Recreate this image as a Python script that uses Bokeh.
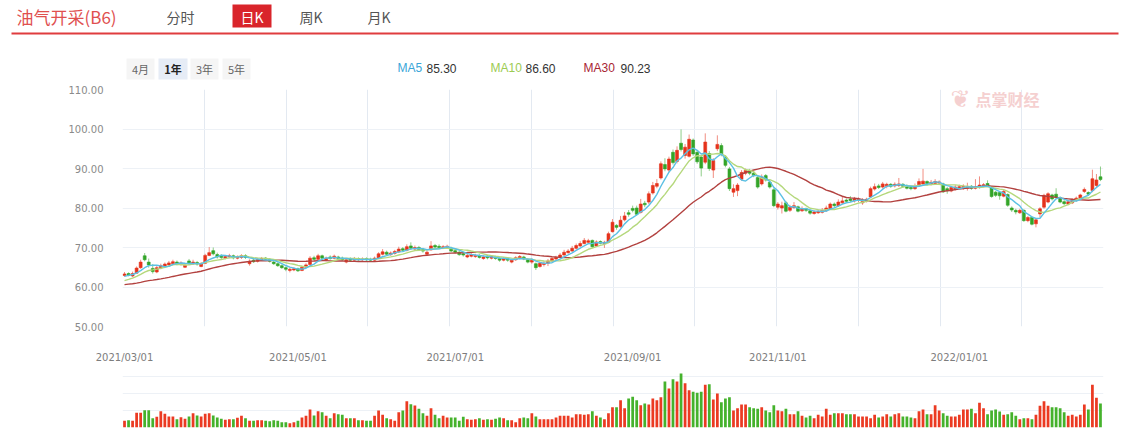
import numpy as np
from bokeh.plotting import figure
from bokeh.layouts import column
from bokeh.models import Range1d, FixedTicker, PrintfTickFormatter, ColumnDataSource, Label
from bokeh.core.properties import value
from bokeh.embed import file_html
from bokeh.resources import INLINE

# ---------------- data ----------------
tick_idx = [0, 43, 82, 126, 162, 207]
tick_labels = ["2021/03/01", "2021/05/01", "2021/07/01", "2021/09/01", "2021/11/01", "2022/01/01"]
price_ticks = [50, 60, 70, 80, 90, 100, 110]

# closes of the 29 sessions before the window (only feed the moving averages)
prior_close = [59.8, 60.2, 60.5, 60.1, 59.7, 59.5, 59.9, 60.3, 60.6, 60.4,
               60.0, 59.6, 59.4, 59.8, 60.2, 60.5, 60.8, 60.6, 60.3, 60.0,
               59.9, 60.2, 60.5, 60.9, 61.2, 61.6, 62.4, 62.9, 63.2]

open_ = [62.9, 63.4, 62.8, 63.5, 64.9, 67.9, 66.3, 64.7, 63.8, 64.8,
         65.3, 65.6, 65.9, 66.3, 65.7, 65.0, 66.6, 65.9, 66.2, 65.2,
         66.0, 68.0, 69.2, 68.2, 67.9, 67.3, 67.6, 67.9, 67.3, 67.5,
         67.9, 65.9, 66.8, 66.5, 66.9, 67.3, 67.0, 66.3, 65.9, 65.4,
         64.9, 64.2, 64.3, 64.6, 64.2, 65.0, 65.7, 67.4, 67.0, 67.9,
         66.8, 67.6, 67.3, 67.6, 67.3, 66.3, 67.1, 66.8, 67.2, 66.9,
         67.2, 67.0, 66.8, 67.3, 68.3, 68.8, 68.2, 68.5, 68.9, 69.7,
         69.3, 70.4, 69.6, 70.0, 69.5, 68.3, 69.4, 70.5, 70.3, 69.9,
         70.0, 69.8, 69.2, 68.8, 68.4, 67.6, 67.8, 67.7, 68.0, 67.2,
         67.8, 67.3, 67.6, 67.2, 66.8, 67.2, 66.3, 66.9, 67.3, 67.6,
         67.0, 66.3, 65.9, 65.2, 65.7, 66.0, 66.6, 67.1, 67.5, 68.1,
         68.7, 69.1, 69.8, 70.4, 71.0, 71.3, 71.8, 70.4, 71.5, 71.0,
         71.3, 74.0, 75.6, 75.3, 77.0, 78.8, 79.9, 80.0, 78.9, 81.2,
         81.5, 83.8, 85.5, 87.6, 91.0, 89.6, 94.1, 91.8, 96.4, 93.3,
         93.1, 97.2, 94.1, 92.9, 91.6, 93.8, 89.6, 95.0, 95.8, 92.9,
         89.9, 84.0, 84.4, 87.3, 88.8, 89.4, 88.8, 87.7, 86.1, 88.2,
         86.5, 84.6, 80.2, 80.0, 81.3, 79.4, 80.1, 80.3, 79.3, 79.8,
         79.3, 78.6, 78.8, 78.9, 79.3, 79.8, 81.0, 80.6, 81.3, 82.0,
         82.3, 81.8, 81.9, 81.3, 81.8, 82.8, 84.8, 85.6, 85.3, 85.5,
         86.0, 85.6, 85.7, 86.0, 85.6, 85.2, 84.9, 85.9, 86.1, 86.7,
         86.0, 86.2, 86.3, 86.1, 84.9, 84.3, 84.7, 85.0, 85.1, 85.0,
         85.5, 85.0, 85.2, 85.5, 86.2, 85.2, 84.0, 83.9, 83.0, 83.4,
         80.0, 79.4, 78.8, 79.4, 76.8, 77.6, 76.0, 78.5, 80.2, 81.5,
         83.3, 83.5, 82.6, 81.6, 81.0, 81.3, 82.0, 82.4, 84.2, 83.9,
         84.4, 85.7, 87.9]

close = [63.3, 63.0, 63.4, 64.8, 66.3, 66.9, 65.6, 63.9, 64.9, 65.4,
         65.8, 66.1, 66.4, 65.9, 66.1, 65.5, 65.9, 66.3, 65.8, 65.8,
         68.0, 68.7, 68.4, 67.6, 67.5, 67.7, 67.9, 67.4, 67.6, 67.9,
         67.5, 66.5, 66.4, 67.0, 67.2, 67.0, 66.5, 65.9, 65.4, 64.9,
         64.5, 64.5, 64.6, 64.1, 65.0, 65.6, 67.3, 67.0, 67.9, 67.3,
         67.3, 67.2, 67.8, 67.2, 66.9, 66.9, 66.8, 67.1, 66.9, 67.1,
         66.9, 66.8, 67.3, 68.4, 68.9, 68.3, 68.6, 69.0, 69.6, 69.3,
         70.2, 69.8, 70.0, 69.5, 69.1, 68.8, 70.4, 70.1, 70.0, 70.2,
         70.3, 69.1, 68.8, 68.2, 68.1, 68.0, 68.2, 68.0, 67.5, 67.6,
         67.4, 67.7, 67.2, 66.8, 67.2, 66.8, 66.8, 67.4, 67.7, 67.1,
         66.3, 66.8, 64.9, 66.0, 66.0, 66.6, 67.2, 67.5, 68.1, 68.8,
         69.1, 69.8, 70.5, 71.0, 71.8, 71.7, 70.2, 71.4, 71.1, 71.3,
         73.5, 76.4, 75.1, 76.9, 78.0, 78.4, 79.4, 78.4, 81.0, 80.8,
         83.6, 85.7, 86.2, 91.2, 89.9, 92.4, 91.5, 94.6, 94.8, 95.4,
         97.4, 93.7, 91.7, 90.1, 96.7, 90.0, 92.0, 96.1, 93.7, 90.8,
         84.9, 84.9, 85.8, 89.0, 89.5, 88.8, 88.2, 85.3, 87.8, 87.1,
         85.3, 80.6, 81.0, 80.6, 79.2, 80.2, 80.6, 79.2, 79.8, 79.4,
         78.7, 79.0, 79.1, 79.4, 80.0, 81.0, 80.6, 81.5, 81.8, 81.7,
         81.9, 82.3, 82.2, 81.7, 82.2, 84.9, 85.4, 85.2, 86.1, 86.0,
         85.5, 86.0, 86.1, 85.5, 85.0, 84.9, 85.4, 86.7, 86.8, 86.2,
         86.5, 86.7, 86.6, 84.1, 84.4, 85.2, 85.3, 85.4, 85.5, 85.4,
         85.0, 85.4, 85.8, 85.9, 85.6, 82.9, 83.2, 83.1, 84.2, 80.7,
         79.5, 79.0, 79.4, 76.8, 77.6, 75.9, 77.0, 79.8, 83.2, 83.6,
         82.3, 82.7, 81.5, 81.1, 81.6, 82.1, 82.5, 83.3, 84.7, 83.5,
         87.4, 87.1, 87.2]

high = [63.8, 63.7, 63.9, 65.2, 66.9, 68.6, 67.2, 65.8, 65.4, 65.9,
        66.2, 66.6, 66.9, 66.7, 66.5, 65.9, 67.1, 66.9, 66.6, 66.3,
        68.4, 70.1, 70.0, 68.7, 68.3, 68.1, 68.4, 68.2, 68.0, 68.3,
        68.3, 67.0, 67.2, 67.3, 67.6, 67.6, 67.3, 66.6, 66.2, 65.7,
        65.2, 64.9, 65.0, 64.9, 65.4, 66.0, 67.8, 67.9, 68.4, 68.2,
        67.7, 68.0, 68.2, 67.9, 67.7, 67.3, 67.5, 67.6, 67.5, 67.5,
        67.5, 67.4, 67.7, 68.8, 69.6, 69.2, 69.0, 69.4, 70.2, 70.1,
        70.8, 71.3, 70.5, 70.4, 69.9, 69.2, 71.6, 70.9, 70.8, 70.6,
        70.7, 70.2, 69.5, 69.1, 68.8, 68.5, 68.6, 68.4, 68.3, 68.0,
        68.1, 68.1, 67.9, 67.5, 67.6, 67.5, 67.1, 67.8, 68.1, 67.9,
        67.3, 67.2, 66.2, 66.4, 66.5, 67.1, 67.5, 67.9, 68.6, 69.4,
        69.6, 70.4, 71.0, 71.6, 72.4, 72.2, 72.0, 71.8, 71.8, 71.7,
        74.0, 77.2, 75.9, 78.0, 79.0, 79.5, 80.6, 80.6, 82.3, 81.8,
        84.2, 86.6, 87.3, 91.8, 92.6, 93.0, 94.8, 95.6, 99.9, 96.2,
        98.6, 97.6, 94.5, 93.4, 98.9, 94.4, 92.6, 98.4, 96.4, 93.4,
        90.4, 86.0, 86.3, 89.6, 90.0, 89.9, 89.2, 88.2, 88.5, 88.6,
        86.8, 85.0, 81.5, 81.6, 81.8, 80.8, 81.5, 80.6, 80.4, 80.1,
        79.6, 79.4, 79.6, 80.0, 80.6, 81.4, 81.4, 82.2, 82.9, 82.4,
        83.0, 82.8, 82.7, 82.5, 82.6, 85.4, 86.2, 86.1, 86.6, 86.4,
        86.3, 86.5, 87.6, 86.3, 86.0, 85.6, 86.2, 87.5, 89.9, 87.0,
        87.1, 87.3, 87.0, 86.4, 85.3, 85.6, 85.8, 85.9, 86.0, 86.4,
        85.8, 87.3, 88.0, 86.3, 87.0, 85.5, 84.3, 84.2, 84.6, 83.7,
        80.4, 79.8, 79.8, 79.7, 78.0, 77.9, 77.3, 80.2, 83.6, 84.0,
        83.6, 85.0, 82.9, 82.0, 82.0, 82.5, 82.9, 83.6, 85.2, 84.2,
        89.7, 88.6, 90.5]

low = [62.6, 62.7, 62.5, 63.3, 64.6, 66.5, 64.9, 63.4, 63.5, 64.5,
       65.0, 65.3, 65.6, 65.5, 65.4, 64.8, 65.6, 65.6, 65.4, 65.0,
       65.8, 67.8, 68.0, 67.2, 66.9, 67.0, 67.3, 67.0, 67.0, 67.1,
       67.1, 65.4, 66.1, 66.2, 66.6, 66.7, 66.2, 65.6, 65.1, 64.6,
       64.0, 63.7, 64.0, 63.8, 64.0, 64.8, 65.5, 66.6, 66.8, 67.0,
       66.5, 66.9, 67.0, 66.9, 66.6, 66.0, 66.5, 66.5, 66.6, 66.6,
       66.6, 66.5, 66.5, 67.1, 68.0, 67.9, 67.9, 68.2, 68.6, 68.9,
       69.0, 69.4, 69.2, 69.1, 68.7, 68.0, 69.2, 69.8, 69.6, 69.6,
       69.7, 68.8, 68.5, 67.9, 67.7, 67.3, 67.5, 67.4, 67.2, 66.9,
       67.0, 67.0, 66.9, 66.4, 66.5, 66.4, 66.0, 66.6, 67.0, 66.8,
       66.0, 65.9, 64.3, 64.9, 65.2, 65.3, 66.4, 66.8, 67.3, 67.9,
       68.4, 68.9, 69.5, 70.1, 70.8, 71.0, 69.9, 70.2, 70.8, 69.9,
       71.1, 73.8, 74.5, 75.0, 76.6, 77.8, 78.9, 78.1, 78.6, 80.2,
       81.0, 83.4, 85.0, 87.2, 89.3, 89.0, 91.0, 91.3, 94.3, 92.5,
       92.8, 93.2, 91.2, 88.0, 91.1, 89.4, 87.6, 94.4, 93.1, 90.3,
       84.3, 82.8, 83.0, 86.9, 88.3, 88.3, 87.8, 84.9, 85.7, 86.7,
       84.9, 80.2, 79.6, 78.6, 78.9, 79.0, 79.8, 78.9, 79.0, 79.0,
       78.3, 78.3, 78.5, 78.6, 79.0, 79.6, 80.2, 80.3, 81.0, 81.3,
       81.5, 81.4, 81.5, 80.8, 81.4, 82.5, 84.4, 84.8, 84.9, 85.0,
       85.1, 85.2, 85.3, 85.1, 84.7, 84.5, 84.6, 85.5, 85.8, 85.6,
       85.7, 85.9, 85.8, 83.8, 83.6, 84.0, 84.4, 84.7, 84.6, 84.4,
       84.6, 84.7, 84.9, 85.2, 85.3, 82.6, 82.8, 82.1, 82.7, 80.3,
       79.0, 78.4, 78.5, 76.5, 76.4, 75.6, 75.1, 77.6, 79.8, 81.2,
       81.9, 82.4, 81.2, 80.7, 80.7, 81.0, 81.6, 82.1, 83.8, 83.1,
       84.0, 85.3, 86.8]

volume = [20, 22, 20, 44, 44, 52, 52, 28, 32, 49,
          41, 33, 33, 25, 31, 26, 33, 43, 36, 33,
          41, 43, 36, 30, 26, 23, 25, 25, 29, 35,
          28, 20, 20, 22, 22, 20, 19, 22, 20, 16,
          16, 13, 16, 20, 30, 35, 54, 36, 49, 46,
          35, 28, 43, 40, 38, 28, 28, 28, 22, 22,
          20, 20, 35, 51, 38, 28, 25, 20, 46, 51,
          79, 70, 66, 56, 43, 35, 58, 38, 28, 35,
          30, 30, 30, 20, 32, 25, 23, 25, 28, 23,
          25, 23, 26, 30, 28, 22, 22, 16, 28, 30,
          28, 43, 33, 25, 25, 25, 25, 30, 35, 35,
          35, 30, 40, 40, 38, 40, 49, 35, 30, 25,
          43, 61, 61, 82, 58, 87, 92, 82, 67, 72,
          69, 87, 82, 91, 138, 117, 145, 138, 162, 133,
          112, 107, 104, 107, 128, 130, 84, 102, 76, 87,
          91, 51, 58, 69, 69, 61, 58, 56, 61, 51,
          46, 67, 51, 49, 56, 40, 40, 49, 35, 30,
          35, 28, 38, 33, 56, 38, 43, 43, 43, 40,
          40, 40, 33, 33, 33, 28, 38, 30, 33, 40,
          33, 40, 43, 33, 33, 30, 28, 49, 54, 40,
          40, 67, 51, 43, 35, 33, 33, 38, 54, 54,
          56, 43, 74, 58, 40, 51, 54, 48, 38, 40,
          46, 35, 25, 28, 28, 25, 38, 65, 79, 65,
          61, 61, 58, 46, 35, 38, 33, 38, 69, 54,
          128, 89, 72]

legend_names = ["MA5", "MA10", "MA30"]
legend_values = ["85.30", "86.60", "90.23"]

# ---------------- derived ----------------
W = 1134
n = len(close)
x = np.arange(n)
o = np.array(open_); c = np.array(close)
RED = "#e5321b"
GREEN = "#33a528"
up = c >= o
colors = np.where(up, RED, GREEN)
vcolors = np.where(up, "#eb3a22", "#45b22c")
full = np.concatenate([np.array(prior_close), c])

def ma(k):
    return np.convolve(full, np.ones(k) / k, mode="valid")[-n:]

src = ColumnDataSource(dict(x=x, o=o, c=c, h=high, l=low,
                            top=np.maximum(o, c), bot=np.minimum(o, c),
                            color=colors, vcolor=vcolors, vol=volume))

CJK = "Noto Sans CJK SC"
x_range = Range1d(-0.5, n - 0.25)
grid_color = "#edf1f6"
vgrid_color = "#e3e9f1"
span = (n - 0.25) - (-0.5)
vgrid_ticks = [-0.5 + k * span / 12 for k in range(13)]
BL, BR = 122, 31

# ---------------- header (own frame = whole canvas) ----------------
hdr = figure(width=W, height=80, x_range=Range1d(0, W), y_range=Range1d(80, 0),
             output_backend="svg", toolbar_location=None, min_border=0,
             x_axis_location=None, y_axis_location=None, outline_line_color=None)
hdr.grid.visible = False
hdr_text = dict(text_baseline="middle", source=None)


def htext(xs, ys, texts, size, color, font=CJK, align="left", style="normal"):
    hdr.text(x=xs, y=ys, text=texts, text_font=value(font), text_font_size=size,
             text_color=color, text_baseline="middle", text_align=align, text_font_style=style)


htext([16], [16], ["油气开采(B6)"], "17px", "#e0504f")
htext([166, 299, 367], [16, 16, 16], ["分时", "周K", "月K"], "14px", "#555555")
hdr.quad(left=[232], right=[271], top=[4], bottom=[27], fill_color="#d9252b", line_color=None)
htext([251.5], [16], ["日K"], "14px", "#ffffff", align="center")
hdr.segment(x0=[11], y0=[33], x1=[1118], y1=[33], line_color="#e03c3f", line_width=2)

# period buttons
hdr.quad(left=[126, 158, 190, 222], right=[154, 187, 218, 250], top=[58, 58, 58, 58],
         bottom=[79, 79, 79, 79], fill_color=["#f5f5f5", "#e6ecf6", "#f5f5f5", "#f5f5f5"],
         line_color=None)
htext([140, 204, 236], [68.5] * 3, ["4月", "3年", "5年"], "11px", "#666666", align="center")
htext([172.5], [68.5], ["1年"], "11px", "#222222", align="center", style="bold")

# MA legend
htext([397, 490, 583], [67.5] * 3, legend_names, "12px", ["#3aa6d8", "#9ccb52", "#a82533"],
      font="Liberation Sans")
htext([426, 525, 620], [67.5] * 3, legend_values, "12px", "#333333", font="Liberation Sans")

# ---------------- price panel ----------------
main = figure(width=W, height=260, x_range=x_range, y_range=Range1d(50, 110),
              output_backend="svg", toolbar_location=None, x_axis_location=None,
              min_border_left=BL, min_border_right=BR, min_border_top=9, min_border_bottom=14,
              outline_line_color=None)
main.yaxis.ticker = FixedTicker(ticks=price_ticks)
main.yaxis.formatter = PrintfTickFormatter(format="%.2f")
main.yaxis.axis_line_color = None
main.yaxis.major_tick_line_color = None
main.yaxis.minor_tick_line_color = None
main.yaxis.major_label_standoff = 13
main.yaxis.major_label_text_font = "DejaVu Sans"
main.yaxis.major_label_text_font_size = "10px"
main.yaxis.major_label_text_color = "#8a8a8a"
main.ygrid.ticker = FixedTicker(ticks=price_ticks)
main.ygrid.grid_line_color = grid_color
main.xgrid.ticker = FixedTicker(ticks=vgrid_ticks)
main.xgrid.grid_line_color = vgrid_color

# watermark
main.add_layout(Label(x=975, y=18, x_units="canvas", y_units="canvas", text="点掌财经",
                      text_font=CJK, text_font_size="16px", text_font_style="bold",
                      text_color="#f5d0d0", text_baseline="middle"))
main.add_layout(Label(x=960, y=18, x_units="canvas", y_units="canvas", text="❦",
                      text_font="DejaVu Sans", text_font_size="24px",
                      text_color="#f5d0d0", text_baseline="middle", text_align="center"))

main.segment(x0="x", y0="l", x1="x", y1="h", line_color="color", line_alpha=0.55,
             line_width=1, source=src)
main.vbar(x="x", width=0.72, top="top", bottom="bot", fill_color="color",
          line_color="color", line_width=0.6, source=src)
main.line(x, ma(30), line_color="#b2413f", line_width=1.4)
main.line(x, ma(10), line_color="#b5d87c", line_width=1.4)
main.line(x, ma(5), line_color="#5bc0e4", line_width=1.4)

# ---------------- volume panel ----------------
volf = figure(width=W, height=102, x_range=x_range, y_range=Range1d(0, 204),
              output_backend="svg", toolbar_location=None, x_axis_location="above",
              y_axis_location=None, min_border_left=BL, min_border_right=BR,
              min_border_top=19, min_border_bottom=15, outline_line_color=None)
volf.xaxis.ticker = FixedTicker(ticks=tick_idx)
volf.xaxis.major_label_overrides = {t: s for t, s in zip(tick_idx, tick_labels)}
volf.xaxis.axis_line_color = None
volf.xaxis.major_tick_line_color = None
volf.xaxis.minor_tick_line_color = None
volf.xaxis.major_label_standoff = -9
volf.xaxis.major_label_text_font = "DejaVu Sans"
volf.xaxis.major_label_text_font_size = "10px"
volf.xaxis.major_label_text_color = "#7d7d7d"
volf.ygrid.ticker = FixedTicker(ticks=[0, 51, 102, 153, 204])
volf.ygrid.grid_line_color = grid_color
volf.xgrid.ticker = FixedTicker(ticks=[-0.5, n - 0.25])
volf.xgrid.grid_line_color = vgrid_color
volf.vbar(x="x", width=0.68, top="vol", bottom=0, fill_color="vcolor", line_color=None, source=src)

layout = column(column(hdr, spacing=0), column(main, volf, spacing=0), spacing=0)
open("out.html", "w").write(file_html(layout, INLINE))
